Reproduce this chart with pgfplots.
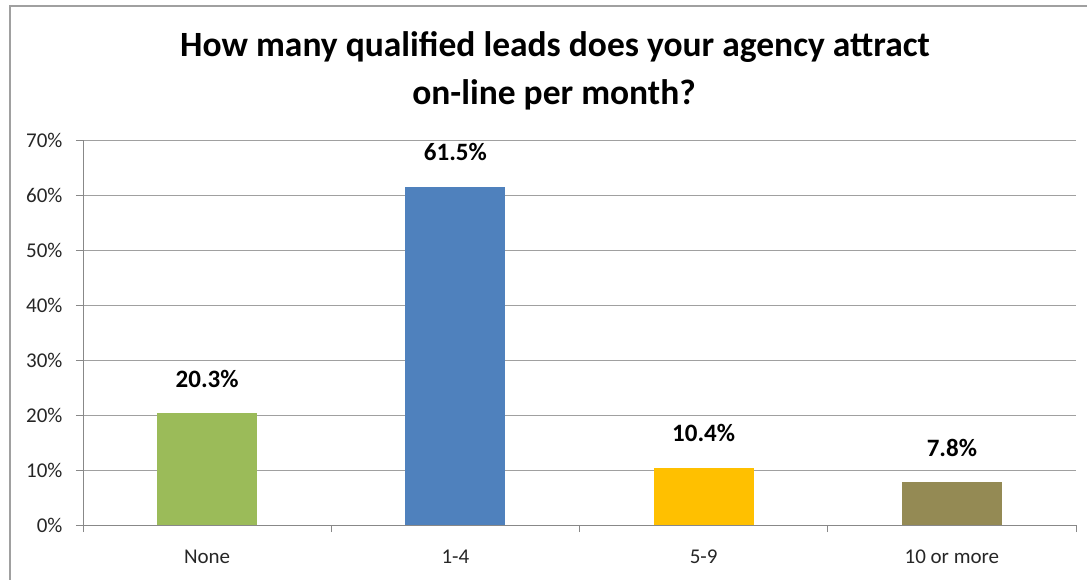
\documentclass[border=0pt]{standalone}
\usepackage{pgfplots}
\pgfplotsset{compat=1.18}
\usepackage{fontspec}
\setmainfont{Carlito}
\definecolor{cgreen}{HTML}{9BBB59}
\definecolor{cblue}{HTML}{4F81BD}
\definecolor{cyellow}{HTML}{FFC000}
\definecolor{colive}{HTML}{948A54}
\definecolor{gridc}{HTML}{A0A0A0}
\definecolor{axisc}{HTML}{888888}
\begin{document}
\begin{tikzpicture}[x=1pt,y=1pt]
\useasboundingbox (0,0) rectangle (1087,579);
\begin{scope}
\clip (0,0) rectangle (1087,579);
\draw[color=gridc, line width=1.3pt] (10,-20) -- (10,573) -- (1110,573);
\end{scope}
\node[anchor=base, font=\bfseries\fontsize{35.5}{42}\selectfont] at (555,522) {How many qualified leads does your agency attract};
\node[anchor=base, font=\bfseries\fontsize{35.5}{42}\selectfont] at (554,474) {on-line per month?};
\begin{axis}[
  at={(83pt,54pt)}, anchor=south west,
  scale only axis, width=993pt, height=385pt,
  xmin=-0.5, xmax=3.5, ymin=0, ymax=70,
  axis lines*=left,
  axis line style={color=axisc, line width=1pt},
  ytick={0,10,...,70},
  yticklabel={\pgfmathprintnumber{\tick}\%},
  /pgf/number format/assume math mode=true,
  ymajorgrids, grid style={color=gridc, line width=1pt},
  xtick={0,1,2,3},
  xticklabels={None,1-4,5-9,10 or more},
  minor xtick={-0.5,0.5,1.5,2.5,3.5},
  tick align=outside,
  x tick style={draw=none},
  minor x tick style={draw=axisc, line width=1pt},
  minor tick length=7pt,
  y tick style={color=axisc, line width=1pt},
  major tick length=7pt,
  ticklabel style={font=\fontsize{21}{25}\selectfont, color=black!85},
  yticklabel style={xshift=-10pt},
  xticklabel style={anchor=base, yshift=-31pt},
  ybar, bar width=100pt, bar shift=0pt,
  nodes near coords={\pgfmathprintnumber[fixed,precision=1,fixed zerofill]{\pgfplotspointmeta}\%},
  nodes near coords style={font=\bfseries\fontsize{25}{30}\selectfont, color=black},
  every node near coord/.append style={anchor=base, yshift=26pt},
  clip=false,
]
\addplot[fill=cgreen, draw=none] coordinates {(0,20.3)};
\addplot[fill=cblue, draw=none] coordinates {(1,61.5)};
\addplot[fill=cyellow, draw=none] coordinates {(2,10.4)};
\addplot[fill=colive, draw=none] coordinates {(3,7.8)};
\end{axis}
\end{tikzpicture}
\end{document}
